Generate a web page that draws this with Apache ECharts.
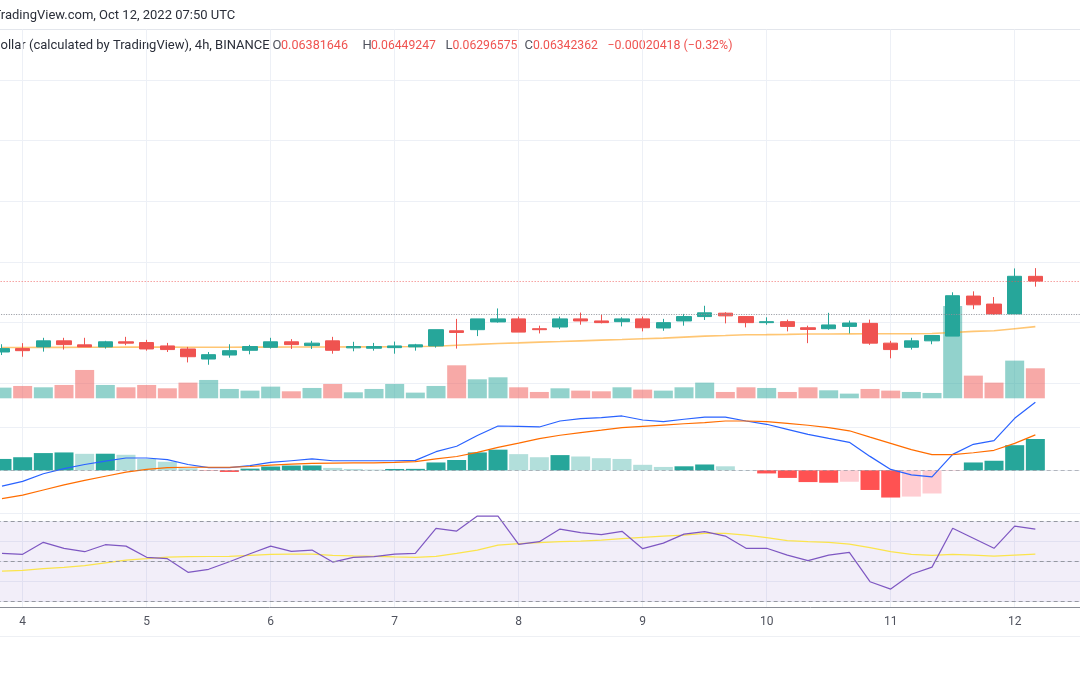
<!DOCTYPE html>
<html>
<head>
<meta charset="utf-8">
<style>
html,body{margin:0;padding:0;background:#ffffff;}
#c{width:1080px;height:675px;}
</style>
<script src="https://cdn.jsdelivr.net/npm/echarts@6.0.0/dist/echarts.min.js"></script>
</head>
<body>
<div id="c"></div>
<script>
// x position = number of 4h bars since 2022-10-03 00:00 UTC; first visible bar is Oct 3 20:00
const firstBar = 5;
const barsPerDay = 6;
const firstDay = 3; // day of month at bar 0

// OHLC (HBAR / US Dollar, 4h, BINANCE)
const open  = [0.05758,0.05786,0.05800,0.05850,0.05817,0.05800,0.05842,0.05836,0.05808,0.05783,
               0.05700,0.05733,0.05772,0.05797,0.05842,0.05811,0.05850,0.05792,0.05789,0.05794,
               0.05800,0.05808,0.05933,0.05942,0.06006,0.06031,0.05950,0.05964,0.06031,0.06014,
               0.06008,0.06031,0.05956,0.06014,0.06050,0.06078,0.06050,0.06000,0.06008,0.05958,
               0.05950,0.05969,0.05994,0.05831,0.05797,0.05850,0.05889,0.06219,0.06153,0.06072,
               0.06381646];
const high  = [0.05822,0.05831,0.05875,0.05875,0.05875,0.05850,0.05883,0.05858,0.05833,0.05800,
               0.05758,0.05822,0.05817,0.05875,0.05864,0.05850,0.05883,0.05842,0.05833,0.05844,
               0.05825,0.05942,0.06031,0.06031,0.06117,0.06050,0.05975,0.06050,0.06083,0.06067,
               0.06044,0.06050,0.06031,0.06072,0.06139,0.06086,0.06050,0.06044,0.06025,0.05975,
               0.06081,0.06017,0.06025,0.05850,0.05875,0.05894,0.06250,0.06258,0.06211,0.06447,
               0.06449247];
const low   = [0.05733,0.05719,0.05761,0.05778,0.05800,0.05786,0.05814,0.05769,0.05758,0.05672,
               0.05653,0.05711,0.05739,0.05786,0.05783,0.05783,0.05744,0.05764,0.05769,0.05744,
               0.05769,0.05794,0.05786,0.05889,0.06000,0.05922,0.05911,0.05947,0.05983,0.05994,
               0.05969,0.05928,0.05933,0.05975,0.06022,0.05994,0.05961,0.05983,0.05928,0.05831,
               0.05942,0.05911,0.05817,0.05706,0.05778,0.05822,0.05889,0.06111,0.06064,0.06072,
               0.06296575];
const close = [0.05786,0.05769,0.05850,0.05819,0.05800,0.05842,0.05831,0.05783,0.05778,0.05719,
               0.05736,0.05769,0.05803,0.05842,0.05819,0.05831,0.05772,0.05803,0.05803,0.05808,
               0.05817,0.05942,0.05919,0.06031,0.06031,0.05922,0.05942,0.06031,0.06014,0.06000,
               0.06031,0.05958,0.06000,0.06050,0.06081,0.06056,0.06000,0.06008,0.05969,0.05944,
               0.05981,0.05997,0.05831,0.05778,0.05850,0.05894,0.06222,0.06147,0.06072,0.06382,
               0.06342362];
// volume (millions)
const volume = [32,37,33,40,85,40,33,40,30,47,
                55,28,23,35,21,31,43,18,28,43,
                17,37,99,57,63,33,19,30,23,21,
                33,26,23,33,47,19,33,31,19,33,
                24,14,28,23,19,16,277,68,47,113,
                90];
// moving average on price
const priceMA = [0.05795,0.05795,0.05796,0.05796,0.05797,0.05797,0.05798,0.05798,0.05798,0.05797,
                 0.05797,0.05797,0.05798,0.05798,0.05799,0.05799,0.05799,0.05800,0.05800,0.05801,
                 0.05803,0.05806,0.05814,0.05821,0.05828,0.05833,0.05839,0.05844,0.05850,0.05856,
                 0.05861,0.05867,0.05872,0.05881,0.05889,0.05894,0.05900,0.05901,0.05903,0.05906,
                 0.05906,0.05907,0.05908,0.05908,0.05908,0.05911,0.05919,0.05928,0.05933,0.05950,
                 0.05967];
// MACD (x1e-4)
const macdLine = [-1.48,-1.03,-0.32,0.16,0.55,0.87,1.16,1.16,1.00,0.55,
                  0.26,0.26,0.45,0.74,0.90,1.07,0.90,0.90,0.90,0.90,
                  0.94,1.75,2.26,3.27,4.16,4.13,4.07,4.63,4.85,4.95,
                  5.10,4.72,4.57,4.79,5.00,5.00,4.63,4.32,3.85,3.38,
                  3.00,2.63,1.31,0.09,-0.42,-0.61,1.50,2.44,2.78,4.88,
                  6.38];
const signalLine = [-2.65,-2.33,-1.84,-1.36,-0.94,-0.55,-0.16,0.09,0.26,0.29,
                    0.29,0.29,0.36,0.49,0.58,0.65,0.68,0.71,0.71,0.74,
                    0.81,1.07,1.30,1.68,2.15,2.55,2.98,3.29,3.54,3.77,
                    4.01,4.13,4.25,4.37,4.48,4.63,4.63,4.57,4.41,4.23,
                    4.01,3.71,3.11,2.53,1.94,1.48,1.48,1.65,1.88,2.53,
                    3.33];
const histogram = [1.07,1.23,1.62,1.68,1.55,1.56,1.46,1.07,0.81,0.20,
                   -0.03,-0.15,0.16,0.36,0.45,0.46,0.23,0.13,0.07,0.13,
                   0.14,0.74,0.97,1.68,1.94,1.52,1.23,1.43,1.30,1.14,
                   1.07,0.52,0.32,0.38,0.55,0.38,0.02,-0.29,-0.71,-1.10,
                   -1.16,-1.07,-1.84,-2.55,-2.46,-2.17,-0.05,0.74,0.90,2.36,
                   2.94];
// RSI and its moving average
const rsi = [54.2,53.7,59.7,56.7,55.0,58.5,57.8,52.2,51.5,44.7,
             46.2,50.0,54.0,57.8,55.2,55.8,49.8,52.2,52.5,53.8,
             54.2,66.7,65.3,72.8,72.8,58.7,60.0,66.3,64.5,63.5,
             65.2,56.5,59.3,63.8,65.0,62.8,56.7,56.7,53.3,50.5,
             53.3,54.7,40.0,36.3,43.7,47.3,66.7,61.7,56.7,67.8,
             66.3];
const rsiMA = [45.3,45.7,46.5,47.2,48.0,49.4,50.8,51.5,52.3,52.5,
               52.6,52.7,53.2,53.7,53.8,53.8,53.2,52.9,52.7,52.4,
               52.2,52.7,54.2,55.8,58.3,59.0,59.5,60.0,60.3,60.8,
               61.5,62.2,62.8,63.3,64.2,64.2,63.3,62.0,60.5,60.0,
               59.7,58.8,57.0,55.0,53.7,53.2,53.7,53.3,52.8,53.3,
               53.8];
const rsiLevels = [70, 50, 30];
const priceTicks = [0.055, 0.080, 0.005];  // min, max, step
const headerLine1 = 'TradingView.com, Oct 12, 2022 07:50 UTC';
const headerTitle = 'ollar (calculated by TradingView), 4h, BINANCE';
const ohlcLabels = ['O', 'H', 'L', 'C'];
const ohlcValues = ['0.06381646', '0.06449247', '0.06296575', '0.06342362'];
const changeText = '\u22120.00020418 (\u22120.32%)';

// ---------- build ----------
const N = open.length;
const xs = open.map((_, i) => firstBar + i);
const UP = '#26a69a', DOWN = '#ef5350';
const FONT = 'Roboto, "Noto Sans", sans-serif';
const barPx = 20.667;
const X_MAX = 58;
const GL = 2 - firstBar * barPx;     // grid left
const GW = X_MAX * barPx;            // grid width
const gridLine = '#edf0f6';

function gridBox(top, height) {
  return { left: GL, width: GW, top: top, height: height, containLabel: false, outerBoundsMode: 'none' };
}
function xAx(gi, extra) {
  return Object.assign({
    type: 'value', gridIndex: gi, min: 0, max: X_MAX, interval: barsPerDay,
    show: false, splitLine: { show: false }
  }, extra || {});
}

const candleData = xs.map((x, i) => [x, open[i], close[i], low[i], high[i]]);
const volData = xs.map((x, i) => ({
  value: [x, volume[i]],
  itemStyle: { color: close[i] >= open[i] ? 'rgba(38,166,154,0.5)' : 'rgba(239,83,80,0.5)' }
}));
const histData = xs.map((x, i) => {
  const h = histogram[i];
  const prev = i > 0 ? histogram[i - 1] : -Infinity;
  let c;
  if (h >= 0) c = h > prev ? '#26a69a' : '#b2dfdb';
  else c = h > prev ? '#ffcdd2' : '#ff5252';
  return { value: [x, h], itemStyle: { color: c } };
});
const pair = (arr) => xs.map((x, i) => [x, arr[i]]);

const lastClose = close[N - 1];
const prevDayClose = close[N - 3]; // close of Oct 11 20:00 bar

const noLabel = { show: false };
const txt = (s, x, size, color) => ({
  type: 'text', silent: true, x: x, y: 46,
  style: { text: s, fontSize: size, fontFamily: FONT, fill: color, verticalAlign: 'middle' }
});

const option = {
  animation: false,
  backgroundColor: '#ffffff',
  grid: [
    gridBox(29.5, 578),     // background / time axis
    gridBox(80, 303.3),     // price
    gridBox(298.3, 100),    // volume
    gridBox(427.7, 85.3),   // MACD
    gridBox(521.7, 80)      // RSI
  ],
  xAxis: [
    xAx(0, {
      show: true, position: 'bottom',
      axisLine: { show: true, lineStyle: { color: '#8a8d96', width: 1 } },
      axisTick: { show: false },
      splitLine: { show: true, lineStyle: { color: gridLine, width: 1 } },
      axisLabel: {
        show: true, margin: 8, color: '#50535e', fontSize: 12, fontFamily: FONT,
        showMaxLabel: false, showMinLabel: false,
        formatter: (v) => (v % barsPerDay === 0 ? String(firstDay + v / barsPerDay) : '')
      }
    }),
    xAx(1), xAx(2), xAx(3), xAx(4)
  ],
  yAxis: [
    { type: 'value', gridIndex: 0, min: 0, max: 1, show: false },
    { type: 'value', gridIndex: 1, min: priceTicks[0], max: priceTicks[1], interval: priceTicks[2],
      axisLine: { show: false }, axisTick: { show: false }, axisLabel: { show: false },
      splitLine: { show: true, lineStyle: { color: gridLine, width: 1 } } },
    { type: 'value', gridIndex: 2, min: 0, max: 300, show: false, splitLine: { show: false } },
    { type: 'value', gridIndex: 3, min: -4, max: 4, interval: 4,
      axisLine: { show: false }, axisTick: { show: false }, axisLabel: { show: false },
      splitLine: { show: true, lineStyle: { color: gridLine, width: 1 } } },
    { type: 'value', gridIndex: 4, min: 30, max: 70, interval: 10,
      axisLine: { show: false }, axisTick: { show: false }, axisLabel: { show: false },
      splitLine: { show: true, lineStyle: { color: gridLine, width: 1 } } }
  ],
  series: [
    {
      name: 'Volume', type: 'bar', xAxisIndex: 2, yAxisIndex: 2,
      data: volData, barWidth: 19, z: 1, silent: true
    },
    {
      name: 'MA', type: 'line', xAxisIndex: 1, yAxisIndex: 1,
      data: pair(priceMA), showSymbol: false, symbol: 'none', z: 2, silent: true,
      lineStyle: { color: 'rgba(255,152,0,0.55)', width: 1.6 },
      markLine: {
        silent: true, symbol: 'none', label: noLabel, animation: false, precision: 10,
        data: [
          { yAxis: prevDayClose, lineStyle: { color: '#8f929b', type: [1, 1.5], width: 1 } },
          { yAxis: lastClose, lineStyle: { color: '#ef5350', type: [1, 2], width: 1, opacity: 0.8 } }
        ]
      }
    },
    {
      name: 'Price', type: 'candlestick', xAxisIndex: 1, yAxisIndex: 1,
      data: candleData, encode: { x: 0, y: [1, 2, 3, 4] },
      barWidth: 15, z: 3, silent: true,
      itemStyle: { color: UP, color0: DOWN, borderColor: UP, borderColor0: DOWN, borderWidth: 1 }
    },
    {
      name: 'Histogram', type: 'bar', xAxisIndex: 3, yAxisIndex: 3,
      data: histData, barWidth: 19, z: 2, silent: true,
      markLine: {
        silent: true, symbol: 'none', label: noLabel,
        data: [{ yAxis: 0 }],
        lineStyle: { color: 'rgba(120,123,134,0.5)', type: [4, 3], width: 1 }
      }
    },
    {
      name: 'MACD', type: 'line', xAxisIndex: 3, yAxisIndex: 3, clip: false,
      data: pair(macdLine), showSymbol: false, symbol: 'none', z: 3, silent: true,
      lineStyle: { color: '#2962ff', width: 1.2 }
    },
    {
      name: 'Signal', type: 'line', xAxisIndex: 3, yAxisIndex: 3, clip: false,
      data: pair(signalLine), showSymbol: false, symbol: 'none', z: 3, silent: true,
      lineStyle: { color: '#ff6d00', width: 1.2 }
    },
    {
      name: 'RSI', type: 'line', xAxisIndex: 4, yAxisIndex: 4, clip: false,
      data: pair(rsi), showSymbol: false, symbol: 'none', z: 4, silent: true,
      lineStyle: { color: '#7e57c2', width: 1.2 },
      markArea: {
        silent: true,
        itemStyle: { color: 'rgba(126,87,194,0.1)' },
        data: [[{ yAxis: rsiLevels[0] }, { yAxis: rsiLevels[2] }]]
      },
      markLine: {
        silent: true, symbol: 'none', label: noLabel,
        lineStyle: { color: '#9598a1', type: [4, 3], width: 1 },
        data: rsiLevels.map(v => ({ yAxis: v }))
      }
    },
    {
      name: 'RSI MA', type: 'line', xAxisIndex: 4, yAxisIndex: 4, clip: false,
      data: pair(rsiMA), showSymbol: false, symbol: 'none', z: 3, silent: true,
      lineStyle: { color: '#fbe44c', width: 1.2 }
    }
  ],
  graphic: [
    { type: 'line', silent: true, shape: { x1: 0, y1: 29.5, x2: 1080, y2: 29.5 }, style: { stroke: '#e3e6ec', lineWidth: 1 } },
    { type: 'line', silent: true, shape: { x1: 0, y1: 636.5, x2: 1080, y2: 636.5 }, style: { stroke: '#eef0f4', lineWidth: 1 } },
    { type: 'text', silent: true, x: -6.5, y: 16, style: { text: headerLine1, fontSize: 13, fontFamily: FONT, fill: '#2a2e39', verticalAlign: 'middle' } },
    txt(headerTitle, 0.5, 13, '#2a2e39'),
    txt(ohlcLabels[0], 272.5, 13, '#50535e'),
    txt(ohlcValues[0], 281, 12.6, '#ef5350'),
    txt(ohlcLabels[1], 362.5, 13, '#50535e'),
    txt(ohlcValues[1], 371, 12.2, '#ef5350'),
    txt(ohlcLabels[2], 445.5, 13, '#50535e'),
    txt(ohlcValues[2], 452.5, 12.2, '#ef5350'),
    txt(ohlcLabels[3], 524.5, 13, '#50535e'),
    txt(ohlcValues[3], 533, 12.2, '#ef5350'),
    txt(changeText, 607.5, 12.4, '#ef5350')
  ]
};

const chart = echarts.init(document.getElementById('c'), null, { renderer: 'canvas', width: 1080, height: 675 });
chart.setOption(option);
</script>
</body>
</html>
